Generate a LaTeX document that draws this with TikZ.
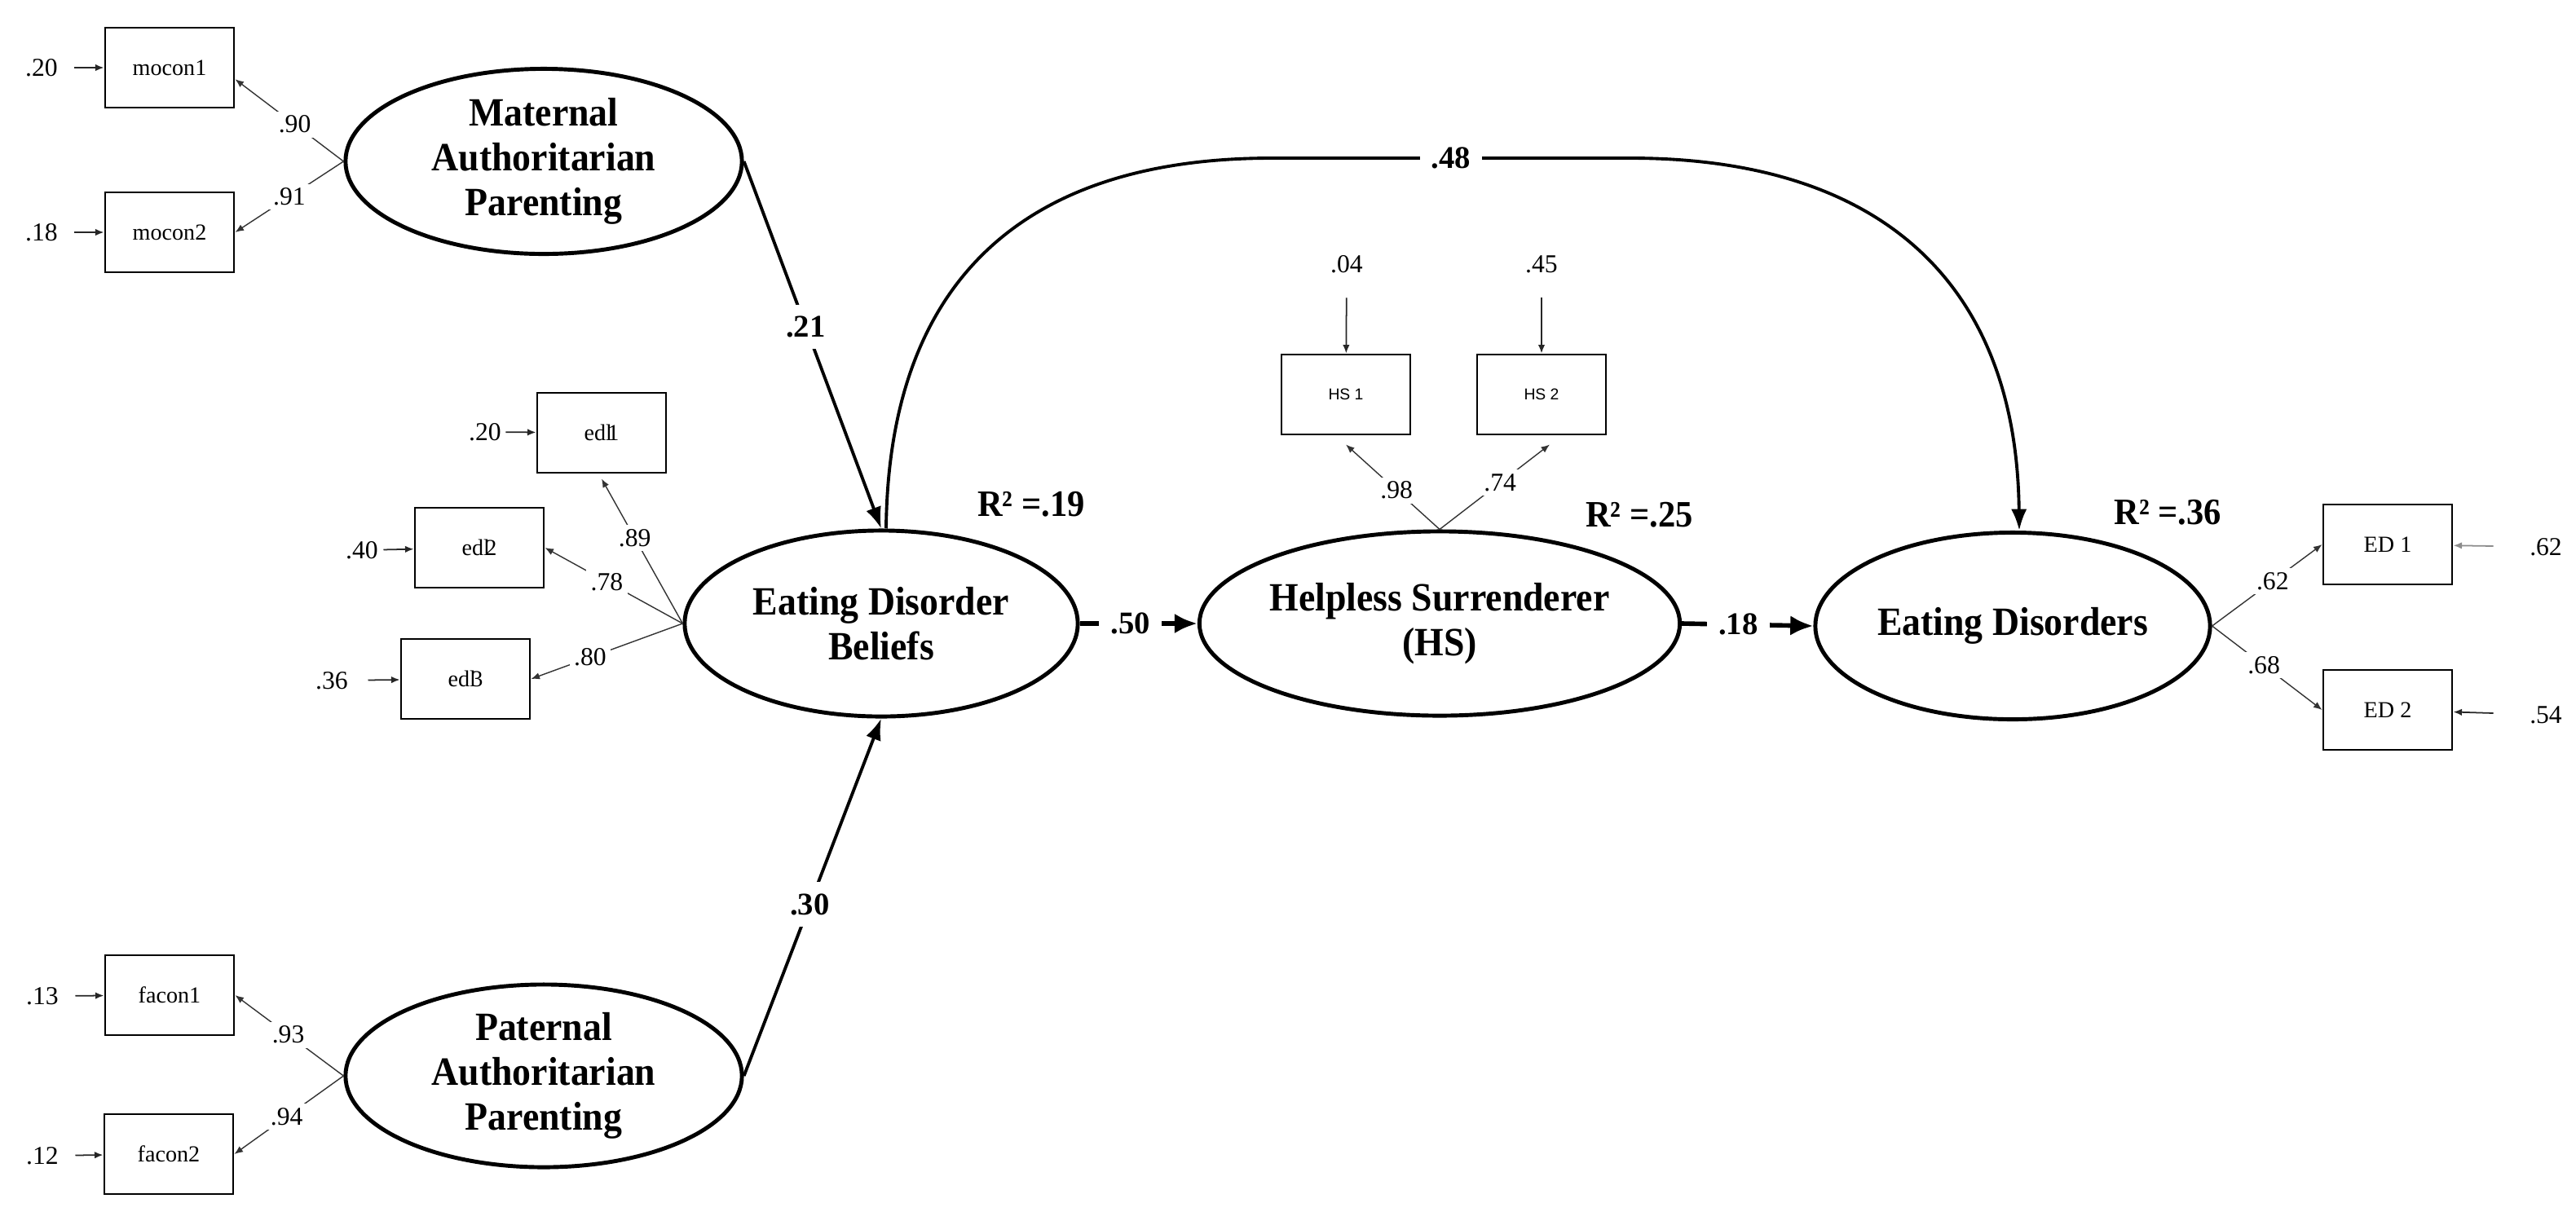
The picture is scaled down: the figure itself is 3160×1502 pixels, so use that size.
\documentclass[tikz,border=0pt]{standalone}
\usepackage{fontspec}
\setmainfont{Liberation Serif}
\newfontfamily\condf[FakeStretch=0.93]{Liberation Serif}
\newfontfamily\sansf{Liberation Sans}
\usetikzlibrary{arrows.meta,shapes.geometric,calc}
\begin{document}
\begin{tikzpicture}[x=0.01cm,y=-0.01cm,
  latent/.style={ellipse, draw, line width=1.4pt, minimum width=4.86cm, minimum height=2.27cm, inner sep=0pt, align=center, font=\condf\bfseries\fontsize{14}{15.6}\selectfont},
  obs/.style={rectangle, draw, line width=0.8pt, minimum width=1.58cm, minimum height=0.98cm, inner sep=0pt, font=\fontsize{8}{9}\selectfont},
  hsobs/.style={obs, font=\sansf\fontsize{5.5}{6}\selectfont},
  err/.style={inner sep=0pt, font=\fontsize{9}{10}\selectfont},
  errarrow/.style={draw=black!85, line width=0.5pt, -{Latex[length=3pt,width=2.4pt]}},
  load/.style={draw=black!80, line width=0.4pt, -{Latex[length=3pt,width=2.4pt]}},
  lab/.style={fill=white, inner sep=1.5pt, font=\fontsize{9}{10}\selectfont},
  struct/.style={line width=1.1pt, -{Latex[length=7.5pt,width=5.5pt]}},
  thickstruct/.style={line width=1.6pt, -{Latex[length=8pt,width=7pt]}},
  plab/.style={fill=white, inner sep=4pt, font=\bfseries\fontsize{11}{12}\selectfont},
  rsq/.style={inner sep=0pt, font=\condf\bfseries\fontsize{13}{14}\selectfont}]
\useasboundingbox (0,0) rectangle (3160,1502);

% latent variables
\node[latent] (mat) at (667,198) {Maternal\\Authoritarian\\Parenting};
\node[latent, minimum height=2.24cm] (pat) at (667,1320) {Paternal\\Authoritarian\\Parenting};
\node[latent, minimum width=4.82cm, minimum height=2.28cm] (edb) at (1081,765) {Eating Disorder\\Beliefs};
\node[latent, minimum width=4.84cm, minimum height=2.26cm] (hs) at (1766,765) {Helpless Surrenderer\\(HS)};
\node[latent, minimum width=4.84cm, minimum height=2.29cm] (ed) at (2469,768) {Eating Disorders};

% observed variables
\node[obs] (mocon1) at (208,83) {mocon1};
\node[obs] (mocon2) at (208,285) {mocon2};
\node[obs] (edi1) at (738,531) {edl\kern-0.2em 1};
\node[obs] (edi2) at (588,672) {edl\kern-0.2em 2};
\node[obs] (edi3) at (571,833) {edl\kern-0.2em 3};
\node[obs] (facon1) at (208,1221) {facon1};
\node[obs] (facon2) at (207,1416) {facon2};
\node[hsobs] (hs1) at (1651,484) {HS 1};
\node[hsobs] (hs2) at (1891,484) {HS 2};
\node[obs] (ed1) at (2929,668) {ED 1};
\node[obs] (ed2) at (2929,871) {ED 2};

% error terms
\node[err] (emo1) at (51,83) {.20};
\node[err] (emo2) at (51,285) {.18};
\node[err] (eei1) at (595,530) {.20};
\node[err] (eei2) at (444,675) {.40};
\node[err] (eei3) at (407,835) {.36};
\node[err] (efa1) at (52,1222) {.13};
\node[err] (efa2) at (52,1418) {.12};
\node[err] (ehs1) at (1652,324) {.04};
\node[err] (ehs2) at (1891,324) {.45};
\node[err] (eed1) at (3123,671) {.62};
\node[err] (eed2) at (3123,877) {.54};

\draw[errarrow, shorten <=0.2cm] (emo1) -- (mocon1);
\draw[errarrow, shorten <=0.2cm] (emo2) -- (mocon2);
\draw[errarrow, shorten <=0.05cm] (eei1) -- (edi1);
\draw[errarrow, shorten <=0.06cm] (eei2) -- (edi2);
\draw[errarrow, shorten <=0.24cm] (eei3) -- (edi3);
\draw[errarrow, shorten <=0.2cm] (efa1) -- (facon1);
\draw[errarrow, shorten <=0.2cm] (efa2) -- (facon2);
\draw[errarrow, shorten <=0.3cm] (ehs1) -- (hs1);
\draw[errarrow, shorten <=0.3cm] (ehs2) -- (hs2);
\draw[errarrow, draw=black!45, shorten <=0.44cm] (eed1) -- (ed1);
\draw[errarrow, shorten <=0.44cm] (eed2) -- (ed2);

% loadings
\draw[load] (mat.west) -- node[lab, pos=0.45]{.90} (mocon1.-10);
\draw[load] (mat.west) -- node[lab, pos=0.5]{.91} (mocon2.east);
\draw[load] (edb.west) -- node[lab, pos=0.59]{.89} ($(edi1.south)+(0,6)$);
\draw[load] (edb.west) -- node[lab, pos=0.55]{.78} (edi2.east);
\draw[load] (edb.west) -- node[lab, pos=0.61]{.80} (edi3.east);
\draw[load] (pat.west) -- node[lab, pos=0.51]{.93} (facon1.east);
\draw[load] (pat.west) -- node[lab, pos=0.52]{.94} (facon2.east);
\draw[load] (hs.north) -- node[lab, pos=0.46]{.98} ($(hs1.south)+(0,11)$);
\draw[load] (hs.north) -- node[lab, pos=0.55]{.74} ($(hs2.south)+(10,11)$);
\draw[load] (ed.east) -- node[lab, pos=0.55]{.62} (ed1.west);
\draw[load] (ed.east) -- node[lab, pos=0.47]{.68} (ed2.west);

% structural paths
\draw[struct] (mat.east) -- node[plab, pos=0.45]{.21} (edb.north);
\draw[struct] (pat.east) -- node[plab, pos=0.48]{.30} (edb.south);
\draw[thickstruct] (edb.east) -- node[plab, pos=0.43]{.50} (hs.west);
\draw[thickstruct] (hs.east) -- node[plab, pos=0.43]{.18} (ed.west);
\coordinate (t1) at (1560,194);
\coordinate (t2) at (2000,194);
\draw[struct] ($(edb.north)+(6,0)$) .. controls (1090,350) and (1250,194) .. (t1)
  -- node[plab]{.48} (t2) .. controls (2310,194) and (2474,350) .. ($(ed.north)+(8,0)$);

% R squared
\node[rsq] (r1) at (1265,619) {R² =.19};
\node[rsq] (r2) at (2011,632) {R² =.25};
\node[rsq] (r3) at (2659,629) {R² =.36};
\end{tikzpicture}
\end{document}
